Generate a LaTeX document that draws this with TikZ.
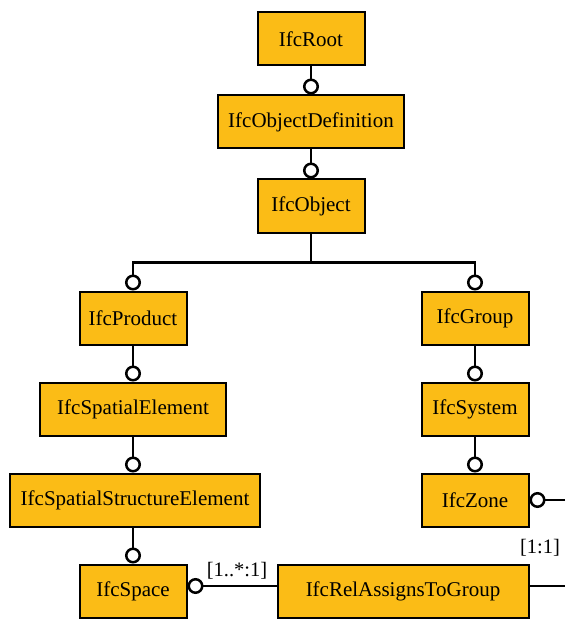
\documentclass[tikz,border=0pt]{standalone}
\usepackage{fontspec}
\setmainfont{Liberation Serif}
\usetikzlibrary{arrows.meta,positioning}
\definecolor{ifcamber}{RGB}{251,188,22}

\begin{document}
\begin{tikzpicture}[x=1pt,y=-1pt]
\tikzset{every node/.style={inner sep=0pt},
  entity/.style={draw=black,line width=2pt,fill=ifcamber,minimum height=53pt,
    minimum width=107pt,font=\fontsize{21}{25}\selectfont},
  link/.style={line width=2.5pt,-{Circle[fill=white,length=16pt,width=16pt]}},
  plain/.style={line width=2.5pt},
  card/.style={font=\fontsize{20.5}{24}\selectfont}}
\useasboundingbox (0,0) rectangle (565,620);
% left branch
\node [entity] (root) at (311,39) {IfcRoot};
\node [entity,minimum width=186pt] (objdef) at (311,122) {IfcObjectDefinition};
\node [entity] (object) at (311,206) {IfcObject};
\node [entity] (product) at (133,318) {IfcProduct};
\node [entity,minimum width=186pt] (spatial) at (133,409) {IfcSpatialElement};
\node [entity,minimum width=250pt] (spatstruct) at (135,500) {IfcSpatialStructureElement};
\node [entity] (space) at (133,591) {IfcSpace};
% right branch
\node [entity] (group) at (475,318) {IfcGroup};
\node [entity] (system) at (475,409) {IfcSystem};
\node [entity] (zone) at (475,500) {IfcZone};
\node [entity,minimum width=251pt] (relgroup) at (403,591) {IfcRelAssignsToGroup};
% free ends
\coordinate (zoneout) at (565,500);
\coordinate (relout) at (565,586);
% connectors
\draw [link] (root) -- (objdef);
\draw [link] (objdef) -- (object);
\draw [link] (object.south) -- ++(0,29) -| (product);
\draw [link] (object.south) -- ++(0,29) -| (group);
\draw [link] (product) -- (spatial);
\draw [link] (spatial) -- (spatstruct.north -| spatial);
\draw [link] (spatstruct.south -| space) -- (space);
\draw [link] (group) -- (system);
\draw [link] (system) -- (zone);
\draw [link] (zoneout) -- (zone);
\draw [link] ([yshift=5pt]relgroup.west) -- ([yshift=5pt]space.east);
\draw [plain] (relgroup.east |- relout) -- (relout);
% cardinalities
\node [card] (cardspace) at (237,571) {[1..*:1]};
\node [card] (cardzone) at (540,548) {[1:1]};
\end{tikzpicture}
\end{document}
